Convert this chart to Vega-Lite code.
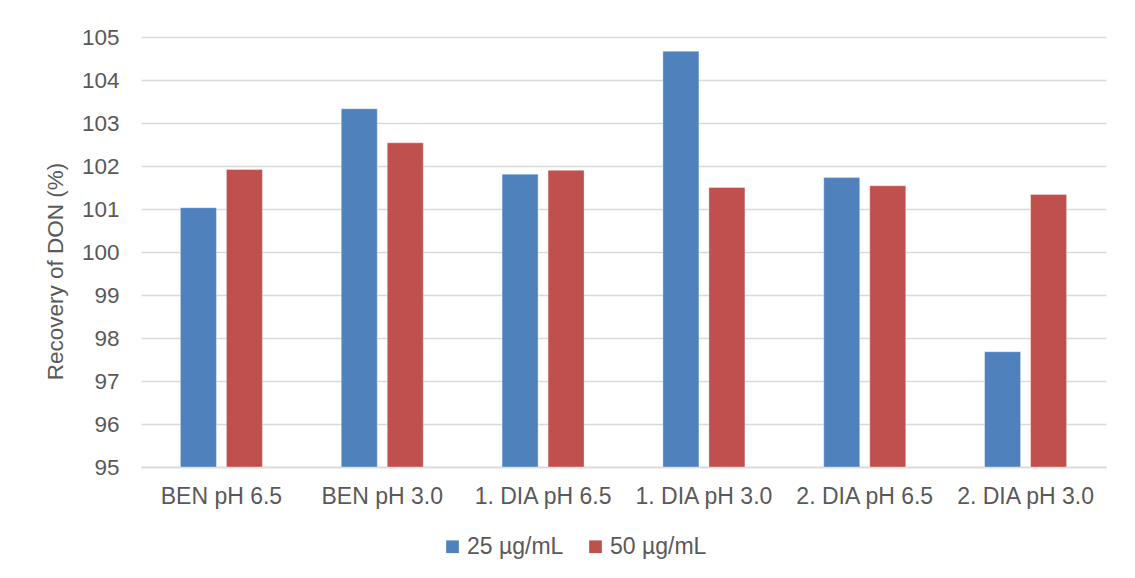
{
  "$schema": "https://vega.github.io/schema/vega-lite/v6.json",
  "width": 965,
  "height": 430,
  "autosize": {"type": "none"},
  "padding": {"left": 141, "top": 37, "right": 29, "bottom": 111},
  "background": "white",
  "config": {
    "view": {"stroke": null},
    "font": "Liberation Sans",
    "axis": {"labelColor": "#595959", "titleColor": "#595959", "labelFont": "Liberation Sans", "titleFont": "Liberation Sans"},
    "legend": {"labelColor": "#595959", "labelFont": "Liberation Sans"}
  },
  "data": {
    "values": [
      {"sample": "BEN pH 6.5", "conc": "25 µg/mL", "recovery": 101.03},
      {"sample": "BEN pH 6.5", "conc": "50 µg/mL", "recovery": 101.92},
      {"sample": "BEN pH 3.0", "conc": "25 µg/mL", "recovery": 103.33},
      {"sample": "BEN pH 3.0", "conc": "50 µg/mL", "recovery": 102.54},
      {"sample": "1. DIA pH 6.5", "conc": "25 µg/mL", "recovery": 101.81},
      {"sample": "1. DIA pH 6.5", "conc": "50 µg/mL", "recovery": 101.9},
      {"sample": "1. DIA pH 3.0", "conc": "25 µg/mL", "recovery": 104.67},
      {"sample": "1. DIA pH 3.0", "conc": "50 µg/mL", "recovery": 101.5},
      {"sample": "2. DIA pH 6.5", "conc": "25 µg/mL", "recovery": 101.73},
      {"sample": "2. DIA pH 6.5", "conc": "50 µg/mL", "recovery": 101.54},
      {"sample": "2. DIA pH 3.0", "conc": "25 µg/mL", "recovery": 97.68},
      {"sample": "2. DIA pH 3.0", "conc": "50 µg/mL", "recovery": 101.34}
    ]
  },
  "mark": {"type": "bar", "stroke": "white", "strokeWidth": 0.6, "strokeOpacity": 0.6},
  "encoding": {
    "x": {
      "field": "sample",
      "type": "nominal",
      "sort": null,
      "scale": {"paddingInner": 0.49, "paddingOuter": 0.245},
      "axis": {
        "title": null,
        "labelAngle": 0,
        "labelFontSize": 23,
        "labelPadding": 18,
        "ticks": false,
        "domain": true,
        "domainColor": "#D9D9D9",
        "domainWidth": 1.3,
        "grid": false
      }
    },
    "xOffset": {
      "field": "conc",
      "type": "nominal",
      "scale": {"paddingInner": 0.217, "paddingOuter": 0}
    },
    "y": {
      "field": "recovery",
      "type": "quantitative",
      "scale": {"domain": [95, 105], "zero": false, "nice": false},
      "axis": {
        "title": "Recovery of DON (%)",
        "titleFontSize": 22.5,
        "titleFontWeight": "normal",
        "titleAngle": -90,
        "titleAlign": "center",
        "titleBaseline": "alphabetic",
        "titleX": -79,
        "titleY": 234,
        "values": [95, 96, 97, 98, 99, 100, 101, 102, 103, 104, 105],
        "labelFontSize": 22.5,
        "labelPadding": 22,
        "ticks": false,
        "domain": false,
        "grid": true,
        "gridColor": "#D9D9D9",
        "gridWidth": 1.3
      }
    },
    "y2": {"datum": 95},
    "color": {
      "field": "conc",
      "type": "nominal",
      "scale": {"domain": ["25 µg/mL", "50 µg/mL"], "range": ["#4F81BD", "#C0504D"]},
      "legend": {
        "title": null,
        "orient": "none",
        "direction": "horizontal",
        "legendX": 300,
        "legendY": 498,
        "symbolType": "square",
        "symbolSize": 161,
        "symbolStrokeWidth": 0,
        "symbolOpacity": 1,
        "labelFontSize": 23,
        "labelOffset": 3,
        "columnPadding": 20
      }
    }
  }
}
